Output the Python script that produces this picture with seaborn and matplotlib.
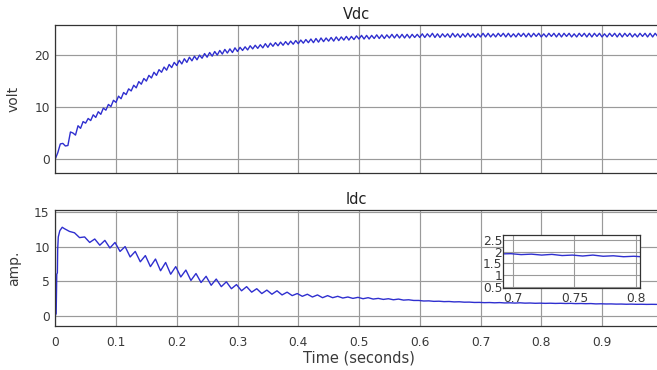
import numpy as np
import matplotlib
matplotlib.use("Agg")
import matplotlib.pyplot as plt
import seaborn as sns

# DC-link voltage, one sample per ripple half-cycle (240 samples/s)
vdc_step = 1.0 / 240.0
vdc_volt = [
    0.0, 1.2, 2.9, 3.0, 2.5, 2.6, 5.2, 5.0, 4.6, 6.4,
    5.9, 7.2, 6.9, 7.8, 7.4, 8.5, 8.0, 9.1, 8.6, 9.8,
    9.4, 10.5, 10.1, 11.3, 10.9, 12.1, 11.6, 12.8, 12.4, 13.5,
    13.1, 14.2, 13.7, 14.9, 14.4, 15.5, 15.0, 16.1, 15.6, 16.7,
    16.1, 17.2, 16.7, 17.7, 17.1, 18.2, 17.6, 18.6, 18.0, 19.0,
    18.3, 19.3, 18.6, 19.6, 18.9, 19.8, 19.1, 20.0, 19.4, 20.3,
    19.6, 20.5, 19.8, 20.7, 20.0, 20.9, 20.2, 21.1, 20.4, 21.2,
    20.5, 21.4, 20.7, 21.5, 20.9, 21.6, 21.0, 21.8, 21.2, 21.9,
    21.3, 22.0, 21.4, 22.2, 21.5, 22.3, 21.7, 22.4, 21.8, 22.5,
    21.9, 22.6, 22.0, 22.7, 22.1, 22.8, 22.2, 22.9, 22.3, 23.0,
    22.4, 23.1, 22.4, 23.2, 22.5, 23.3, 22.6, 23.3, 22.7, 23.4,
    22.7, 23.5, 22.8, 23.5, 22.9, 23.6, 22.9, 23.6, 23.0, 23.7,
    23.1, 23.8, 23.1, 23.8, 23.1, 23.8, 23.2, 23.9, 23.2, 23.9,
    23.2, 23.9, 23.3, 24.0, 23.3, 24.0, 23.3, 24.0, 23.3, 24.0,
    23.3, 24.0, 23.4, 24.0, 23.4, 24.1, 23.4, 24.1, 23.5, 24.2,
    23.4, 24.1, 23.4, 24.1, 23.5, 24.1, 23.4, 24.2, 23.5, 24.1,
    23.4, 24.1, 23.5, 24.2, 23.5, 24.1, 23.4, 24.1, 23.5, 24.2,
    23.5, 24.2, 23.5, 24.1, 23.5, 24.2, 23.6, 24.2, 23.5, 24.2,
    23.5, 24.1, 23.5, 24.2, 23.6, 24.2, 23.5, 24.2, 23.5, 24.2,
    23.6, 24.2, 23.5, 24.1, 23.5, 24.2, 23.6, 24.2, 23.5, 24.2,
    23.5, 24.2, 23.6, 24.2, 23.5, 24.1, 23.5, 24.2, 23.6, 24.2,
    23.5, 24.2, 23.5, 24.2, 23.6, 24.2, 23.5, 24.1, 23.5, 24.2,
    23.6, 24.2, 23.5, 24.2, 23.5, 24.2, 23.6, 24.2, 23.5, 24.1,
    23.5, 24.2, 23.6, 24.2, 23.5, 24.2, 23.5, 24.2, 23.6,
]

# DC current: start-up transient, then one sample per half-cycle of the 60 Hz ripple
idc_startup_s = [0.0, 0.0015, 0.0025, 0.0035, 0.004, 0.005, 0.0075, 0.0115]
idc_startup_a = [0.0, 0.3, 6.0, 6.2, 9.6, 11.4, 12.3, 12.8]
idc_ripple_t0 = 0.015
idc_ripple_step = 1.0 / 120.0
idc_ripple_a = [
    12.6, 12.2, 12.0, 11.3, 11.4, 10.6, 11.1, 10.2, 10.9, 9.8,
    10.6, 9.3, 10.0, 8.5, 9.3, 7.8, 8.7, 7.1, 8.2, 6.5,
    7.7, 6.0, 7.1, 5.6, 6.6, 5.1, 6.1, 4.8, 5.7, 4.4,
    5.3, 4.2, 4.9, 3.9, 4.5, 3.6, 4.2, 3.4, 3.9, 3.2,
    3.7, 3.1, 3.6, 3.0, 3.4, 2.9, 3.2, 2.8, 3.1, 2.7,
    3.0, 2.6, 2.9, 2.6, 2.8, 2.55, 2.7, 2.5, 2.65, 2.45,
    2.6, 2.4, 2.5, 2.35, 2.45, 2.3, 2.4, 2.25, 2.3, 2.2,
    2.2, 2.12, 2.14, 2.07, 2.09, 2.03, 2.05, 1.99, 2.01, 1.95,
    1.96, 1.91, 1.92, 1.88, 1.9, 1.86, 1.89, 1.84, 1.86, 1.82,
    1.86, 1.81, 1.83, 1.79, 1.81, 1.78, 1.8, 1.77, 1.79, 1.76,
    1.78, 1.74, 1.76, 1.73, 1.75, 1.7, 1.72, 1.69, 1.7, 1.67,
    1.68, 1.65, 1.67, 1.64, 1.65, 1.63, 1.64, 1.63,
]

time_ticks = [0, 0.1, 0.2, 0.3, 0.4, 0.5, 0.6, 0.7, 0.8, 0.9]
time_tick_labels = ["0", "0.1", "0.2", "0.3", "0.4", "0.5", "0.6", "0.7", "0.8", "0.9"]
vdc_ticks = [0, 10, 20]
idc_ticks = [0, 5, 10, 15]
zoom_x_ticks = [0.7, 0.75, 0.8]
zoom_x_labels = ["0.7", "0.75", "0.8"]
zoom_y_ticks = [0.5, 1, 1.5, 2, 2.5]
zoom_y_labels = ["0.5", "1", "1.5", "2", "2.5"]

sns.set_theme(style="whitegrid")
plt.rcParams["font.family"] = ["DejaVu Sans"]

LINE = "#2f2fcf"
GRID = "#9a9a9a"
SPINE = "#333333"
TXT = "#3a3a3a"

vdc_t = np.arange(len(vdc_volt)) * vdc_step
idc_t = np.concatenate([idc_startup_s,
                        idc_ripple_t0 + np.arange(len(idc_ripple_a)) * idc_ripple_step])
idc_a = np.concatenate([idc_startup_a, idc_ripple_a])

fig = plt.figure(figsize=(6.57, 3.70), dpi=100)
W, H = 657.0, 370.0
x_left = 55.25
x_end = (W - x_left) / 607.5  # visible end of the time axis

ax1 = fig.add_axes([x_left / W, 1 - 173 / H, 1 - x_left / W, 148 / H])
ax2 = fig.add_axes([x_left / W, 1 - 326 / H, 1 - x_left / W, 116 / H])


def style(ax):
    ax.set_facecolor("white")
    ax.grid(True, color=GRID, linewidth=0.85)
    for side, sp in ax.spines.items():
        sp.set_color(SPINE)
        sp.set_linewidth(0.9)
        sp.set_visible(side != "right")
    ax.tick_params(direction="in", length=3, width=0.7, colors=SPINE,
                   labelcolor=TXT, labelsize=8.8)


sns.lineplot(x=vdc_t, y=vdc_volt, ax=ax1, color=LINE, linewidth=1.0,
             estimator=None, sort=False)
ax1.set_xlim(0, x_end)
ax1.set_ylim(-2.7, 25.8)
ax1.set_xticks(time_ticks)
ax1.set_xticklabels([])
ax1.set_yticks(vdc_ticks)
style(ax1)
ax1.tick_params(axis="y", pad=4)
ax1.set_title("Vdc", fontsize=10.5, color="#222222", pad=4)
ax1.set_ylabel("volt", fontsize=10, color=TXT)
ax1.yaxis.set_label_coords(-0.058, 0.5)
ax1.set_xlabel("")

sns.lineplot(x=idc_t, y=idc_a, ax=ax2, color=LINE, linewidth=1.0,
             estimator=None, sort=False)
ax2.set_xlim(0, x_end)
ax2.set_ylim(-1.5, 15.3)
ax2.set_xticks(time_ticks)
ax2.set_xticklabels(time_tick_labels)
ax2.set_yticks(idc_ticks)
style(ax2)
ax2.tick_params(axis="y", pad=4)
ax2.tick_params(axis="x", pad=7)
ax2.set_title("Idc", fontsize=10.5, color="#222222", pad=4)
ax2.set_ylabel("amp.", fontsize=10, color=TXT)
ax2.yaxis.set_label_coords(-0.056, 0.5)
ax2.set_xlabel("Time (seconds)", fontsize=10.5, color=TXT)
ax2.xaxis.set_label_coords(0.505, -0.215)

# zoomed view of the current around 0.7-0.8 s
ax3 = fig.add_axes([503 / W, 1 - 288 / H, 137 / W, 53 / H])
sns.lineplot(x=idc_t, y=idc_a, ax=ax3, color=LINE, linewidth=1.0,
             estimator=None, sort=False)
ax3.set_xlim(0.6919, 0.8033)
ax3.set_ylim(0.45, 2.72)
ax3.set_xticks(zoom_x_ticks)
ax3.set_xticklabels(zoom_x_labels)
ax3.set_yticks(zoom_y_ticks)
ax3.set_yticklabels(zoom_y_labels)
ax3.set_facecolor("white")
ax3.grid(True, color=GRID, linewidth=0.8)
for sp in ax3.spines.values():
    sp.set_visible(True)
    sp.set_color(SPINE)
    sp.set_linewidth(0.9)
ax3.tick_params(direction="in", length=3, width=0.7, colors=SPINE,
                labelcolor=TXT, labelsize=8.8)
ax3.tick_params(axis="y", pad=0.5)
ax3.tick_params(axis="x", pad=3)
ax3.set_xlabel("")
ax3.set_ylabel("")

fig.savefig("out.png", dpi=100)
